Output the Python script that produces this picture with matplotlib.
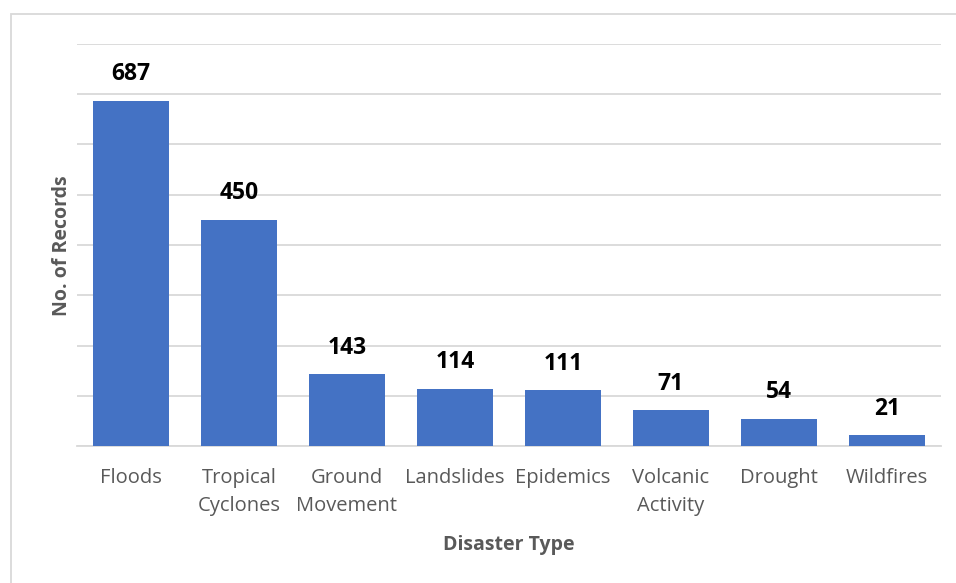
import matplotlib.pyplot as plt
from matplotlib.patches import Rectangle

categories = ["Floods", "Tropical\nCyclones", "Ground\nMovement", "Landslides",
              "Epidemics", "Volcanic\nActivity", "Drought", "Wildfires"]
records = [687, 450, 143, 114, 111, 71, 54, 21]

plt.rcParams["font.family"] = ["Open Sans", "DejaVu Sans"]

fig = plt.figure(figsize=(9.56, 5.83), dpi=100)
ax = fig.add_axes([77 / 956, 1 - 446 / 583, 864 / 956, 402 / 583])

x = range(len(categories))
ax.bar(x, records, width=0.71, color="#4472c4", zorder=3)

for xi, v in zip(x, records):
    ax.annotate(str(v), (xi, v), xytext=(0, 10.5), textcoords="offset points",
                ha="center", va="bottom", fontsize=16.5, fontweight="bold", color="black")

ax.set_xlim(-0.5, len(categories) - 0.5)
ax.set_ylim(0, 800)
ax.set_yticks(range(0, 801, 100))
ax.set_yticklabels([])
ax.tick_params(axis="y", length=0)
ax.tick_params(axis="x", length=0, pad=16, labelsize=14.5, labelcolor="#595959")
ax.set_xticks(list(x))
ax.set_xticklabels(categories, linespacing=1.5, va="top")
ax.grid(axis="y", color="#d9d9d9", linewidth=1.3, zorder=0)

for side in ["top", "right", "left"]:
    ax.spines[side].set_visible(False)
ax.spines["bottom"].set_color("#d9d9d9")
ax.spines["bottom"].set_linewidth(1.3)

fig.text(62 / 956, 1 - 246 / 583, "No. of Records", rotation=90, ha="center", va="center",
         fontsize=14, fontweight="bold", color="#595959")
fig.text(509 / 956, 1 - 545 / 583, "Disaster Type", ha="center", va="center",
         fontsize=14, fontweight="bold", color="#595959")

# thin frame around the chart area
fig.patches.append(Rectangle((11 / 956, -0.05), 1.0, 1 - 14 / 583 + 0.05,
                             transform=fig.transFigure, fill=False,
                             edgecolor="#d9d9d9", linewidth=1.3))

fig.savefig("out.png", dpi=100)
